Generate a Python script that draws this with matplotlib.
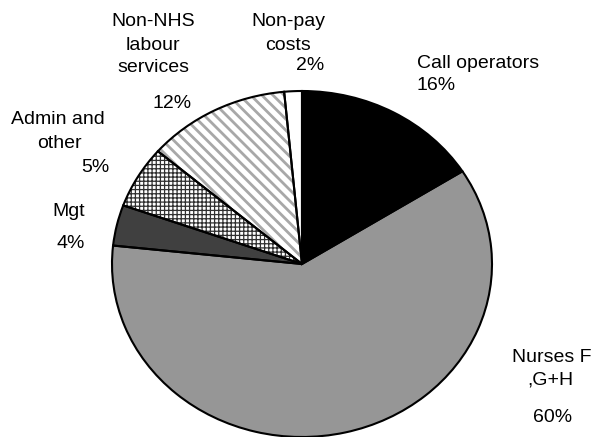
import matplotlib
matplotlib.use("Agg")
import matplotlib.pyplot as plt

plt.rcParams["font.family"] = ["Liberation Sans", "DejaVu Sans"]

# data, clockwise from 12 o'clock
categories = ["Call operators", "Nurses F ,G+H", "Mgt", "Admin and other",
              "Non-NHS labour services", "Non-pay costs"]
shares = [16, 60.7, 3.8, 5.8, 12.2, 1.5]
pct_labels = ["16%", "60%", "4%", "5%", "12%", "2%"]

face_colors = ["#000000", "#969696", "#404040", "#ffffff", "#ffffff", "#ffffff"]
hatches = [None, None, None, "++++", "\\\\\\", None]
hatch_colors = ["black", "black", "black", "#303030", "#a8a8a8", "black"]
hatch_widths = [1.0, 1.0, 1.0, 0.9, 2.0, 1.0]

W, H = 592, 437
fig = plt.figure(figsize=(W / 100, H / 100), dpi=100)

# pie is slightly squashed vertically in the original
cx, cy, rx, ry = 302, 264, 190, 173
ax = fig.add_axes([(cx - rx) / W, (H - cy - ry) / H, 2 * rx / W, 2 * ry / H])

# pass 1: fills + hatches
wedges, _ = ax.pie(shares, startangle=90, counterclock=False,
                   colors=face_colors, wedgeprops=dict(linewidth=0))
for w, h, hc, hw in zip(wedges, hatches, hatch_colors, hatch_widths):
    w.set_clip_on(False)
    if h:
        w.set_hatch(h)
        w.set_edgecolor(hc)
        w.set_linewidth(0)
        if hasattr(w, "set_hatch_linewidth"):
            w.set_hatch_linewidth(hw)

# pass 2: black outlines
outl, _ = ax.pie(shares, startangle=90, counterclock=False,
                 wedgeprops=dict(fill=False, edgecolor="black", linewidth=1.5))
for w in outl:
    w.set_clip_on(False)

ax.set_aspect("auto")
ax.set_xlim(-1, 1)
ax.set_ylim(-1, 1)
ax.axis("off")

fs = 14


def put(x, y, s, ha="center"):
    fig.text(x / W, 1 - y / H, s, ha=ha, va="center", fontsize=fs, color="black")


# category names
put(153, 22, "Non-NHS")
put(153, 45, "labour")
put(153, 67, "services")
put(288, 22, "Non-pay")
put(288, 45, "costs")
put(417, 63, "Call operators", ha="left")
put(58, 120, "Admin and")
put(59, 143, "other")
put(69, 212, "Mgt")
put(552, 357, "Nurses F")
put(550, 380, ",G+H")

# percentages
put(172, 103, pct_labels[4])
put(310, 65, pct_labels[5])
put(417, 85, pct_labels[0], ha="left")
put(95, 167, pct_labels[3])
put(71, 243, pct_labels[2])
put(553, 417, pct_labels[1])

fig.savefig("out.png", dpi=100, facecolor="white")
